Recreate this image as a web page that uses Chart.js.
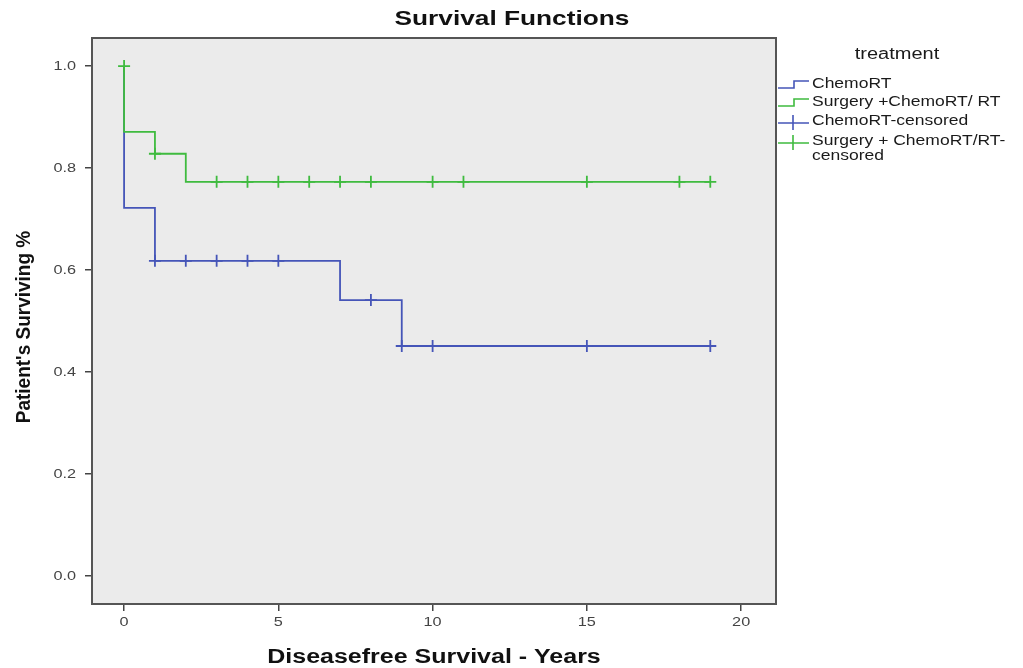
<!DOCTYPE html>
<html>
<head>
<meta charset="utf-8">
<script src="https://cdn.jsdelivr.net/npm/chart.js@4"></script>
<style>
  html, body { margin: 0; padding: 0; background: #fff; }
  #wrap { width: 1023px; height: 668px; }
</style>
</head>
<body>
<div id="wrap"><canvas id="chartSurvival" width="1023" height="668"></canvas></div>
<script>
// step curves (time, survival)
const chemoTimes = [0, 0, 1, 7, 9, 19];
const chemoSurv = [1.0, 0.722, 0.618, 0.541, 0.451, 0.451];
const surgTimes = [0, 0, 1, 2, 19];
const surgSurv = [1.0, 0.871, 0.828, 0.773, 0.773];
// censored cases
const chemoCensTimes = [1, 2, 3, 4, 5, 8, 9, 10, 15, 19];
const chemoCensSurv = [0.618, 0.618, 0.618, 0.618, 0.618, 0.541, 0.451, 0.451, 0.451, 0.451];
const surgCensTimes = [0, 1, 3, 4, 5, 6, 7, 8, 10, 11, 15, 18, 19];
const surgCensSurv = [1.0, 0.828, 0.773, 0.773, 0.773, 0.773, 0.773, 0.773, 0.773, 0.773, 0.773, 0.773, 0.773];
const xTicks = [0, 5, 10, 15, 20];
const yTicks = [0, 0.2, 0.4, 0.6, 0.8, 1.0];
const legendLabels = ['ChemoRT', 'Surgery +ChemoRT/ RT', 'ChemoRT-censored', ['Surgery + ChemoRT/RT-', 'censored']];

const BLUE = '#4555b8';
const GREEN = '#3fbb3f';
const FONT = '"Liberation Sans", Arial, sans-serif';
const SX = 1.25; // the original text is a bit wide

function pts(xs, ys) {
    return xs.map((x, i) => ({x: x, y: ys[i]}));
}

// text stretched sideways like the source picture
function wideText(ctx, txt, x, y, font, align, color) {
    ctx.save();
    ctx.translate(x, y);
    ctx.scale(SX, 1);
    ctx.font = font;
    ctx.fillStyle = color || '#1a1a1a';
    ctx.textAlign = align;
    ctx.textBaseline = 'middle';
    ctx.fillText(txt, 0, 0);
    ctx.restore();
}

const decor = {
    id: 'decor',
    beforeDraw(chart) {
        const {ctx, chartArea: a} = chart;
        ctx.save();
        ctx.fillStyle = '#ebebeb';
        ctx.fillRect(a.left, a.top, a.right - a.left, a.bottom - a.top);
        ctx.restore();
    },
    afterDraw(chart) {
        const {ctx, chartArea: a, scales} = chart;
        ctx.save();
        ctx.strokeStyle = '#555';
        ctx.lineWidth = 2;
        ctx.strokeRect(a.left, a.top, a.right - a.left, a.bottom - a.top);

        // tick labels
        xTicks.forEach(v => {
            wideText(ctx, String(v), scales.x.getPixelForValue(v), 622, '13px ' + FONT, 'center', '#444');
        });
        yTicks.forEach(v => {
            wideText(ctx, v.toFixed(1), 76, scales.y.getPixelForValue(v), '13px ' + FONT, 'right', '#444');
        });

        // titles
        wideText(ctx, 'Survival Functions', 512, 19, 'bold 21px ' + FONT, 'center', '#111');
        wideText(ctx, 'Diseasefree Survival - Years', 434, 657, 'bold 20px ' + FONT, 'center', '#111');
        ctx.save();
        ctx.translate(24, 327);
        ctx.scale(1.1, 1);
        ctx.rotate(-Math.PI / 2);
        ctx.font = 'bold 19px ' + FONT;
        ctx.fillStyle = '#111';
        ctx.textAlign = 'center';
        ctx.textBaseline = 'middle';
        ctx.fillText("Patient's Surviving %", 0, 0);
        ctx.restore();

        // legend
        wideText(ctx, 'treatment', 897, 55, '16px ' + FONT, 'center');
        const rows = [84, 102, 121, 141];
        const colors = [BLUE, GREEN, BLUE, GREEN];
        ctx.lineWidth = 1.6;
        legendLabels.forEach((lab, i) => {
            const y = rows[i];
            ctx.strokeStyle = colors[i];
            ctx.beginPath();
            if (i < 2) {
                ctx.moveTo(778, y + 4);
                ctx.lineTo(794, y + 4);
                ctx.lineTo(794, y - 3);
                ctx.lineTo(809, y - 3);
            } else {
                ctx.moveTo(778, y + 2);
                ctx.lineTo(809, y + 2);
                ctx.moveTo(793, y - 6);
                ctx.lineTo(793, y + 9);
            }
            ctx.stroke();
            if (Array.isArray(lab)) {
                wideText(ctx, lab[0], 812, y, '14px ' + FONT, 'left');
                wideText(ctx, lab[1], 812, y + 15, '14px ' + FONT, 'left');
            } else {
                wideText(ctx, lab, 812, y, '14px ' + FONT, 'left');
            }
        });
        ctx.restore();
    }
};

const ctx = document.getElementById('chartSurvival').getContext('2d');
const myChart = new Chart(ctx, {
    type: 'scatter',
    data: {
        datasets: [{
            label: 'ChemoRT',
            data: pts(chemoTimes, chemoSurv),
            showLine: true,
            stepped: true,
            borderColor: BLUE,
            borderWidth: 1.8,
            pointRadius: 0,
            order: 2
        }, {
            label: 'Surgery +ChemoRT/ RT',
            data: pts(surgTimes, surgSurv),
            showLine: true,
            stepped: true,
            borderColor: GREEN,
            borderWidth: 1.8,
            pointRadius: 0,
            order: 1
        }, {
            label: 'ChemoRT-censored',
            data: pts(chemoCensTimes, chemoCensSurv),
            pointStyle: 'cross',
            pointRadius: 6,
            borderColor: BLUE,
            borderWidth: 1.8,
            order: 0
        }, {
            label: 'Surgery + ChemoRT/RT-censored',
            data: pts(surgCensTimes, surgCensSurv),
            pointStyle: 'cross',
            pointRadius: 6,
            borderColor: GREEN,
            borderWidth: 1.8,
            order: 0
        }]
    },
    options: {
        responsive: false,
        animation: false,
        layout: { padding: { left: 0, top: 38, right: 247, bottom: 0 } },
        plugins: {
            legend: { display: false },
            tooltip: { enabled: false }
        },
        scales: {
            x: {
                type: 'linear',
                min: -1.04,
                max: 21.13,
                afterBuildTicks: s => { s.ticks = xTicks.map(v => ({value: v})); },
                afterFit: s => { s.height = 64; },
                grid: { drawOnChartArea: false, drawTicks: true, tickLength: 7, color: '#444', lineWidth: 1.5 },
                border: { display: false },
                ticks: { display: false }
            },
            y: {
                type: 'linear',
                min: -0.055,
                max: 1.055,
                afterBuildTicks: s => { s.ticks = yTicks.map(v => ({value: v})); },
                afterFit: s => { s.width = 92; },
                grid: { drawOnChartArea: false, drawTicks: true, tickLength: 7, color: '#444', lineWidth: 1.5 },
                border: { display: false },
                ticks: { display: false }
            }
        }
    },
    plugins: [decor]
});
</script>
</body>
</html>
